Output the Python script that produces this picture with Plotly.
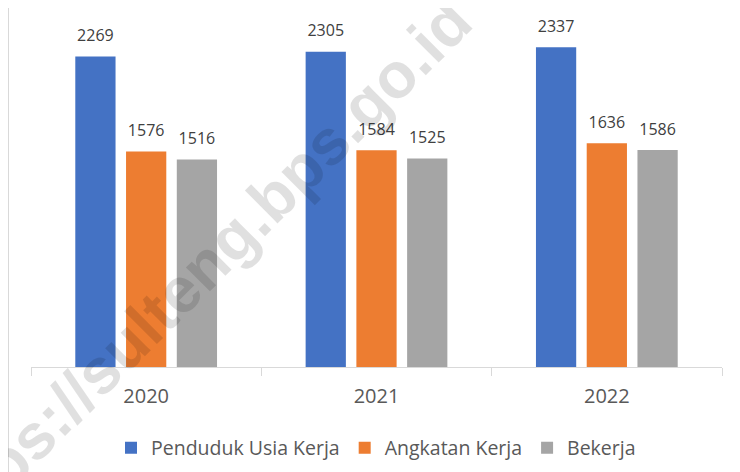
import plotly.graph_objects as go

years = ["2020", "2021", "2022"]
series_names = ["Penduduk Usia Kerja", "Angkatan Kerja", "Bekerja"]
penduduk_usia_kerja = [2269, 2305, 2337]
angkatan_kerja = [1576, 1584, 1636]
bekerja = [1516, 1525, 1586]
colors = ["#4472C4", "#ED7D31", "#A5A5A5"]
watermark = "https://sulteng.bps.go.id"

FONT = "Open Sans"
OFF = 8  # page body margin of the html page
W, H = 740 - OFF, 472 - OFF
# plot area in page pixels: x 31..722, y 25..367
ML, MT = 31 - OFF, 25 - OFF
MR = (740 - OFF) - (722 - OFF)
MB = (472 - OFF) - (367 - OFF)
plot_h = H - MT - MB
plot_w = W - ML - MR


def px(xpage):
    return (xpage - OFF - ML) / plot_w


def py(ypage):
    return ((H - MB) - (ypage - OFF)) / plot_h


fig = go.Figure()
all_series = [penduduk_usia_kerja, angkatan_kerja, bekerja]
for name, vals, col in zip(series_names, all_series, colors):
    fig.add_trace(go.Bar(
        x=years, y=vals, name=name, marker_color=col,
        marker_line_width=0, offsetgroup=name,
    ))
# value labels (invisible markers, text above)
for name, vals in zip(series_names, all_series):
    fig.add_trace(go.Scatter(
        x=years, y=vals, mode="markers+text", text=[str(v) for v in vals],
        textposition="top center",
        textfont=dict(family=FONT, size=16, color="#404040"),
        marker=dict(size=16.5, opacity=0), showlegend=False,
        hoverinfo="skip", offsetgroup=name, cliponaxis=False,
    ))

fig.update_layout(
    width=W, height=H,
    margin=dict(l=ML, r=MR, t=MT, b=MB, autoexpand=False),
    paper_bgcolor="white", plot_bgcolor="white",
    barmode="group", bargap=0.339, bargroupgap=0.207,
    scattermode="group", scattergap=0.339,
    showlegend=True,
    legend=dict(orientation="h", x=px(376), xanchor="center",
                y=py(448), yanchor="middle",
                font=dict(family=FONT, size=19.5, color="#595959"),
                traceorder="normal", bgcolor="rgba(0,0,0,0)"),
    xaxis=dict(showline=True, linecolor="#D9D9D9", linewidth=1,
               ticks="outside", tickson="boundaries", ticklen=8,
               tickcolor="#D9D9D9", showgrid=False, automargin=False,
               ticklabelstandoff=11,
               tickfont=dict(family=FONT, size=20, color="#595959")),
    yaxis=dict(range=[0, 2500], visible=False, showgrid=False),
    font=dict(family=FONT),
)

# left border line of the original chart frame
fig.add_shape(type="line", xref="paper", yref="paper",
              x0=px(8.5), x1=px(8.5), y0=py(472), y1=py(0),
              line=dict(color="#D9D9D9", width=1))

# watermark
fig.add_annotation(text="<b>" + watermark + "</b>", xref="paper", yref="paper",
                   x=px(197), y=py(273),
                   showarrow=False, textangle=-45,
                   font=dict(family="Liberation Sans", size=64,
                             color="rgba(0,0,0,0.12)"),
                   xanchor="center", yanchor="middle")

fig.write_html("out.html")
